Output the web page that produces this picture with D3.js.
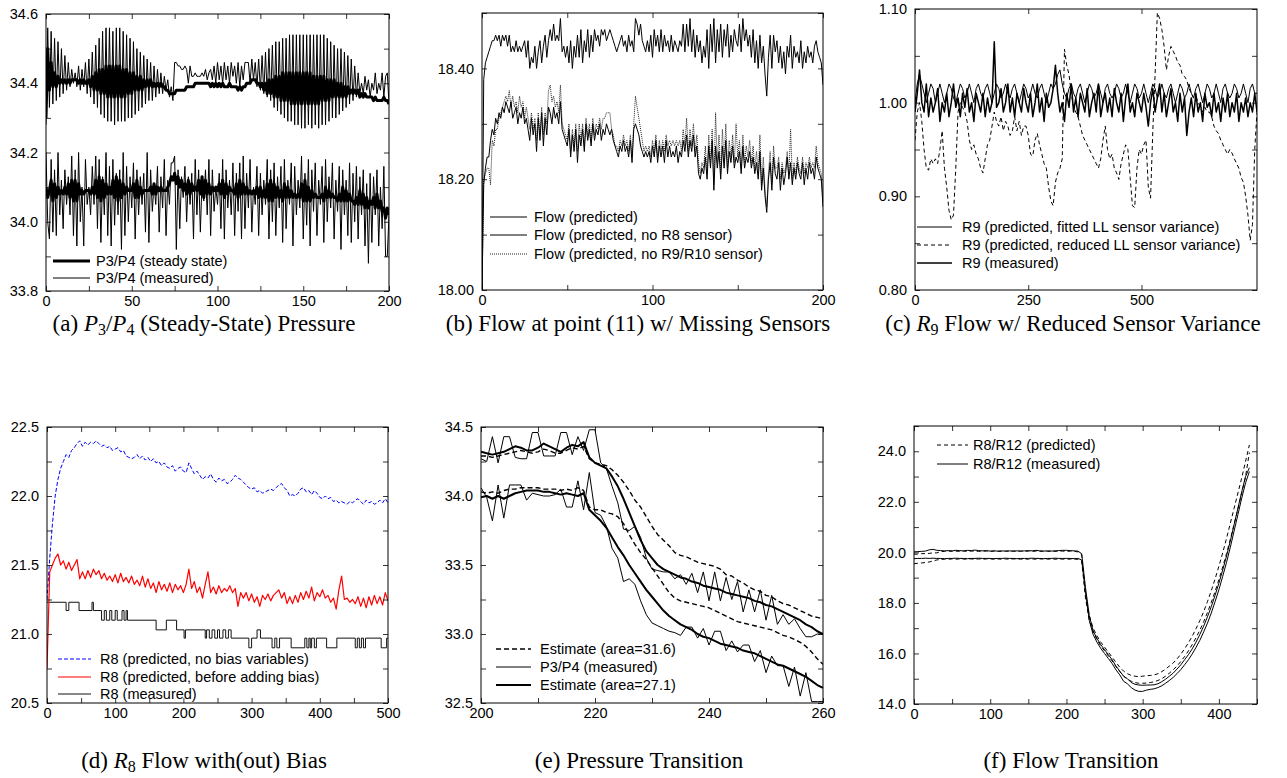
<!DOCTYPE html>
<html>
<head>
<meta charset="utf-8">
<script src="https://cdn.jsdelivr.net/npm/d3@7"></script>
<style>
body { margin: 0; background: #fff; }
text { font-family: "Liberation Sans", Arial, Helvetica, sans-serif; font-size: 14.5px; fill: #000; }
.tick text { font-size: 14.5px; }
.cap { font-family: "Liberation Serif", "Times New Roman", serif; font-size: 23px; }
</style>
</head>
<body>
<svg id="fig" width="1287" height="778"></svg>
<script>
// ---------- (a) P3/P4 steady-state pressure, x = 0..200 step 1 ----------
const aTopMeas = [34.28,34.56,34.33,34.55,34.34,34.53,34.35,34.52,34.36,34.50,
34.37,34.48,34.38,34.46,34.39,34.44,34.40,34.43,34.39,34.45,
34.38,34.44,34.39,34.46,34.37,34.47,34.36,34.49,34.34,34.51,
34.33,34.53,34.31,34.55,34.30,34.56,34.29,34.56,34.29,34.55,
34.28,34.56,34.29,34.56,34.29,34.55,34.29,34.54,34.30,34.53,
34.30,34.52,34.31,34.50,34.32,34.49,34.33,34.48,34.34,34.47,
34.35,34.46,34.35,34.45,34.36,34.44,34.37,34.43,34.37,34.42,
34.38,34.41,34.36,34.39,34.35,34.46,34.46,34.45,34.45,34.44,
34.44,34.45,34.44,34.40,34.45,34.42,34.42,34.43,34.42,34.42,
34.42,34.43,34.42,34.44,34.41,34.43,34.44,34.41,34.45,34.40,
34.46,34.41,34.45,34.40,34.46,34.41,34.45,34.40,34.46,34.42,
34.45,34.40,34.46,34.39,34.45,34.41,34.46,34.46,34.46,34.40,
34.47,34.41,34.46,34.39,34.47,34.38,34.48,34.37,34.49,34.36,
34.50,34.35,34.51,34.33,34.52,34.32,34.52,34.31,34.53,34.30,
34.53,34.29,34.54,34.29,34.54,34.28,34.54,34.28,34.54,34.27,
34.54,34.27,34.54,34.28,34.54,34.27,34.54,34.28,34.54,34.27,
34.54,34.28,34.54,34.28,34.53,34.29,34.52,34.30,34.51,34.30,
34.50,34.31,34.50,34.32,34.49,34.33,34.48,34.34,34.47,34.35,
34.45,34.36,34.43,34.37,34.40,34.37,34.42,34.38,34.41,34.36,
34.40,34.38,34.43,34.37,34.40,34.38,34.43,34.36,34.42,34.43,
34.34];
const aTopSteady = [34.30,34.50,34.38,34.46,34.39,34.43,34.39,34.42,34.40,34.41,
34.40,34.41,34.40,34.41,34.40,34.41,34.41,34.41,34.41,34.40,
34.41,34.40,34.41,34.40,34.40,34.41,34.39,34.42,34.38,34.43,
34.38,34.44,34.37,34.44,34.37,34.45,34.36,34.45,34.36,34.45,
34.36,34.45,34.36,34.45,34.36,34.44,34.36,34.44,34.37,34.43,
34.37,34.43,34.38,34.42,34.38,34.42,34.38,34.41,34.39,34.41,
34.39,34.41,34.39,34.40,34.39,34.40,34.39,34.40,34.39,34.39,
34.38,34.38,34.37,34.37,34.37,34.37,34.38,34.38,34.38,34.38,
34.38,34.38,34.39,34.39,34.39,34.39,34.39,34.40,34.40,34.40,
34.40,34.40,34.40,34.40,34.40,34.40,34.39,34.40,34.39,34.40,
34.39,34.40,34.39,34.40,34.39,34.39,34.39,34.40,34.39,34.39,
34.39,34.39,34.38,34.39,34.38,34.39,34.39,34.40,34.40,34.40,
34.41,34.41,34.41,34.40,34.40,34.39,34.40,34.38,34.40,34.37,
34.41,34.37,34.41,34.36,34.42,34.36,34.42,34.35,34.43,34.35,
34.43,34.35,34.43,34.34,34.43,34.34,34.43,34.34,34.43,34.34,
34.43,34.34,34.43,34.34,34.43,34.34,34.42,34.34,34.42,34.34,
34.42,34.35,34.42,34.35,34.41,34.35,34.41,34.36,34.41,34.36,
34.40,34.36,34.40,34.36,34.39,34.36,34.39,34.37,34.38,34.37,
34.38,34.37,34.38,34.36,34.37,34.36,34.37,34.36,34.36,34.36,
34.36,34.35,34.36,34.35,34.35,34.35,34.35,34.36,34.35,34.35,
34.34];
const aBotMeas = [34.20,34.00,33.95,34.18,33.97,34.15,33.96,34.20,34.02,34.12,
33.98,34.15,34.05,34.13,34.02,34.19,33.96,34.15,33.93,34.20,
34.00,34.10,33.93,34.18,34.05,34.10,34.02,34.16,34.05,34.19,
33.98,34.18,33.94,34.13,34.02,34.20,33.96,34.16,33.93,34.18,
33.99,34.14,34.02,34.15,33.92,34.20,33.96,34.16,34.00,34.13,
34.04,34.17,33.95,34.15,34.02,34.13,34.05,34.14,33.97,34.20,
33.94,34.15,34.03,34.11,34.05,34.16,33.97,34.13,34.04,34.18,
33.96,34.12,34.05,34.17,34.17,34.19,33.92,34.15,33.98,34.13,
34.07,34.16,34.00,34.13,34.05,34.14,33.95,34.18,34.02,34.15,
33.97,34.12,34.06,34.15,34.02,34.18,33.96,34.15,34.03,34.10,
34.05,34.14,33.98,34.18,33.95,34.15,34.04,34.12,34.02,34.17,
33.96,34.14,34.03,34.17,33.95,34.19,33.98,34.14,34.04,34.18,
33.97,34.10,34.05,34.16,33.96,34.14,34.02,34.12,34.05,34.18,
33.95,34.15,34.00,34.17,33.96,34.13,34.04,34.16,33.94,34.18,
33.98,34.12,34.05,34.17,33.93,34.16,34.02,34.12,34.04,34.19,
33.95,34.14,33.99,34.18,33.93,34.15,34.03,34.17,33.96,34.12,
34.05,34.16,33.94,34.18,34.00,34.13,34.04,34.17,33.95,34.12,
34.03,34.16,33.92,34.15,34.02,34.12,33.96,34.17,33.94,34.14,
34.00,34.16,33.95,34.13,34.02,34.15,33.93,34.11,33.88,34.14,
33.94,34.13,34.02,34.15,33.93,34.10,33.98,34.16,33.90,33.90,
34.02];
const aBotSteady = [34.10,34.07,34.09,34.12,34.06,34.11,34.07,34.10,34.08,34.09,
34.08,34.10,34.08,34.11,34.07,34.12,34.06,34.12,34.06,34.11,
34.08,34.09,34.08,34.09,34.09,34.09,34.08,34.10,34.08,34.12,
34.07,34.13,34.06,34.12,34.07,34.11,34.08,34.10,34.08,34.12,
34.07,34.13,34.06,34.12,34.07,34.11,34.08,34.10,34.09,34.09,
34.09,34.11,34.07,34.12,34.07,34.10,34.08,34.09,34.09,34.09,
34.09,34.10,34.08,34.11,34.08,34.10,34.09,34.10,34.09,34.09,
34.09,34.10,34.11,34.13,34.12,34.14,34.11,34.13,34.10,34.12,
34.09,34.11,34.08,34.12,34.08,34.11,34.09,34.10,34.09,34.12,
34.08,34.13,34.07,34.12,34.08,34.11,34.08,34.10,34.09,34.10,
34.09,34.11,34.08,34.12,34.07,34.11,34.08,34.10,34.09,34.09,
34.08,34.11,34.07,34.12,34.08,34.11,34.08,34.10,34.08,34.09,
34.08,34.09,34.08,34.10,34.07,34.10,34.07,34.09,34.07,34.11,
34.06,34.12,34.06,34.11,34.07,34.10,34.07,34.09,34.06,34.11,
34.07,34.10,34.07,34.09,34.07,34.08,34.07,34.08,34.07,34.11,
34.06,34.12,34.06,34.10,34.06,34.09,34.07,34.08,34.07,34.07,
34.07,34.08,34.06,34.10,34.07,34.09,34.07,34.08,34.07,34.07,
34.06,34.08,34.06,34.10,34.06,34.09,34.06,34.08,34.06,34.06,
34.05,34.07,34.05,34.09,34.05,34.08,34.04,34.07,34.04,34.06,
34.05,34.07,34.04,34.08,34.04,34.06,34.03,34.04,34.01,34.04,
34.02];

// ---------- (b) flow at point (11), x = 0..200 step 1 ----------
const bFlow = [18.00,18.38,18.41,18.42,18.43,18.44,18.45,18.45,18.46,18.45,
18.46,18.44,18.46,18.45,18.46,18.44,18.46,18.43,18.44,18.43,
18.45,18.43,18.44,18.43,18.44,18.45,18.42,18.45,18.40,18.42,
18.41,18.44,18.40,18.43,18.45,18.41,18.44,18.46,18.42,18.45,
18.47,18.45,18.48,18.45,18.46,18.45,18.49,18.43,18.44,18.42,
18.44,18.41,18.45,18.40,18.44,18.42,18.46,18.42,18.47,18.41,
18.45,18.43,18.47,18.42,18.46,18.43,18.47,18.45,18.46,18.44,
18.47,18.46,18.47,18.45,18.46,18.47,18.46,18.45,18.44,18.43,
18.44,18.45,18.46,18.44,18.45,18.43,18.46,18.44,18.45,18.43,
18.49,18.48,18.46,18.48,18.45,18.44,18.43,18.45,18.43,18.46,
18.42,18.47,18.44,18.46,18.43,18.47,18.43,18.46,18.44,18.45,
18.43,18.46,18.43,18.45,18.44,18.43,18.45,18.44,18.48,18.43,
18.48,18.44,18.49,18.43,18.47,18.42,18.46,18.43,18.45,18.41,
18.44,18.42,18.47,18.40,18.48,18.43,18.49,18.41,18.47,18.43,
18.48,18.42,18.47,18.44,18.48,18.42,18.46,18.43,18.47,18.45,
18.44,18.48,18.43,18.49,18.45,18.47,18.44,18.46,18.42,18.47,
18.41,18.45,18.40,18.46,18.41,18.44,18.39,18.35,18.42,18.46,
18.40,18.46,18.43,18.45,18.41,18.44,18.40,18.43,18.39,18.44,
18.42,18.46,18.40,18.44,18.42,18.43,18.41,18.45,18.40,18.43,
18.41,18.44,18.42,18.43,18.41,18.44,18.45,18.43,18.42,18.41,
18.37];
const bNoR8 = [18.00,18.19,18.22,18.24,18.24,18.27,18.29,18.28,18.31,18.30,
18.32,18.31,18.33,18.32,18.34,18.33,18.32,18.34,18.31,18.32,
18.33,18.30,18.32,18.31,18.33,18.30,18.31,18.29,18.27,18.31,
18.28,18.30,18.25,18.31,18.27,18.32,18.26,18.31,18.28,18.33,
18.32,18.30,18.33,18.31,18.32,18.30,18.34,18.29,18.28,18.27,
18.26,18.29,18.24,18.28,18.25,18.29,18.23,18.28,18.26,18.29,
18.25,18.30,18.27,18.29,18.26,18.30,18.27,18.29,18.28,18.30,
18.27,18.29,18.28,18.30,18.29,18.28,18.29,18.27,18.26,18.25,
18.24,18.26,18.25,18.27,18.25,18.26,18.24,18.27,18.23,18.29,
18.30,18.29,18.28,18.26,18.25,18.24,18.25,18.24,18.25,18.23,
18.26,18.24,18.27,18.23,18.26,18.24,18.26,18.23,18.27,18.24,
18.26,18.24,18.25,18.24,18.26,18.23,18.25,18.24,18.27,18.25,
18.28,18.24,18.27,18.25,18.28,18.24,18.26,18.21,18.20,18.22,
18.21,18.24,18.20,18.26,18.22,18.27,18.18,18.26,18.22,18.25,
18.20,18.26,18.22,18.27,18.21,18.25,18.23,18.26,18.22,18.24,
18.23,18.25,18.21,18.26,18.22,18.24,18.23,18.25,18.22,18.24,
18.21,18.23,18.20,18.25,18.18,18.22,18.17,18.14,18.20,18.23,
18.18,18.24,18.21,18.20,18.23,18.18,18.22,18.19,18.21,18.24,
18.20,18.23,18.19,18.22,18.20,18.23,18.21,18.20,18.23,18.19,
18.22,18.20,18.23,18.21,18.22,18.20,18.24,18.22,18.21,18.20,
18.15];
const bNoR9R10 = [18.00,18.20,18.21,18.22,18.22,18.19,18.27,18.26,18.29,18.29,
18.31,18.32,18.33,18.34,18.35,18.34,18.36,18.33,18.35,18.33,
18.34,18.32,18.35,18.33,18.34,18.31,18.33,18.31,18.29,18.32,
18.29,18.31,18.27,18.32,18.28,18.33,18.28,18.32,18.30,18.36,
18.37,18.34,18.35,18.33,18.34,18.32,18.37,18.30,18.29,18.28,
18.27,18.30,18.25,18.29,18.26,18.30,18.25,18.30,18.27,18.30,
18.26,18.31,18.28,18.30,18.27,18.31,18.28,18.30,18.29,18.31,
18.29,18.31,18.31,18.32,18.32,18.32,18.29,18.28,18.26,18.26,
18.25,18.27,18.26,18.28,18.26,18.27,18.25,18.28,18.24,18.30,
18.35,18.33,18.31,18.29,18.27,18.25,18.26,18.25,18.26,18.24,
18.27,18.25,18.28,18.24,18.27,18.25,18.27,18.25,18.28,18.26,
18.27,18.26,18.27,18.26,18.27,18.26,18.27,18.25,18.29,18.26,
18.31,18.25,18.29,18.26,18.30,18.25,18.28,18.23,18.21,18.23,
18.22,18.26,18.21,18.28,18.23,18.29,18.19,18.32,18.23,18.28,
18.21,18.29,18.23,18.30,18.22,18.27,18.24,18.28,18.23,18.30,
18.24,18.27,18.22,18.28,18.23,18.26,18.24,18.27,18.23,18.26,
18.22,18.25,18.21,18.28,18.19,18.24,18.18,18.15,18.21,18.25,
18.19,18.26,18.22,18.22,18.24,18.20,18.23,18.21,18.22,18.25,
18.21,18.29,18.20,18.23,18.21,18.24,18.22,18.21,18.24,18.21,
18.23,18.22,18.24,18.22,18.23,18.22,18.26,18.23,18.22,18.21,
18.16];

// ---------- (c) R9 flow, x = 0..755 step 5 ----------
const cFitted = [1.00,1.02,1.03,1.02,1.01,1.00,1.01,1.02,1.015,1.00,
1.01,1.02,1.01,1.00,1.01,1.02,1.015,1.005,1.00,1.01,
1.02,1.015,1.005,1.01,1.02,1.01,1.00,1.015,1.02,1.01,
1.005,1.015,1.02,1.01,1.00,1.01,1.02,1.015,1.005,1.01,
1.02,1.01,1.005,1.015,1.02,1.01,1.00,1.01,1.02,1.015,
1.005,1.01,1.02,1.01,1.005,1.015,1.02,1.01,1.00,1.01,
1.02,1.015,1.02,1.03,1.035,1.02,1.01,1.005,1.015,1.02,
1.01,1.005,1.015,1.02,1.01,1.00,1.01,1.02,1.015,1.005,
1.01,1.02,1.01,1.00,1.015,1.02,1.01,1.005,1.01,1.02,
1.015,1.005,1.01,1.02,1.01,1.00,1.01,1.02,1.015,1.005,
1.01,1.02,1.01,1.00,1.01,1.02,1.015,1.005,1.01,1.02,
1.01,1.005,1.015,1.02,1.01,1.00,1.01,1.02,1.015,1.005,
1.01,1.02,1.01,1.005,1.015,1.02,1.01,1.00,1.01,1.02,
1.015,1.005,1.01,1.02,1.01,1.00,1.015,1.02,1.01,1.005,
1.01,1.02,1.015,1.005,1.01,1.02,1.01,1.00,1.015,1.02,
1.01,1.01];
const cReduced = [0.96,0.99,1.00,0.98,0.95,0.93,0.928,0.94,0.935,0.94,
0.935,0.95,0.97,0.93,0.91,0.885,0.875,0.88,0.93,0.99,
1.00,0.995,0.99,0.98,0.96,0.95,0.955,0.945,0.94,0.93,
0.925,0.94,0.955,0.96,0.975,0.99,0.98,0.975,0.985,0.97,
0.98,0.975,0.965,0.97,0.985,0.97,0.98,0.965,0.975,0.975,
0.965,0.945,0.943,0.96,0.967,0.955,0.945,0.935,0.93,0.91,
0.895,0.89,0.915,0.925,0.93,0.94,1.057,1.04,1.03,1.01,
0.995,0.99,0.985,0.975,0.965,0.96,0.955,0.95,0.945,0.94,
0.935,0.93,0.94,0.96,0.975,0.95,0.94,0.945,0.93,0.925,
0.918,0.935,0.945,0.955,0.95,0.92,0.89,0.888,0.93,0.95,
0.945,0.955,0.96,0.91,0.898,0.97,1.03,1.096,1.09,1.078,
1.06,1.035,1.05,1.06,1.055,1.05,1.043,1.04,1.03,1.028,
1.024,1.015,1.01,1.005,1.007,1.00,0.995,0.99,0.995,0.99,
0.99,0.985,0.975,0.97,0.967,0.96,0.955,0.95,0.945,0.95,
0.946,0.94,0.935,0.93,0.92,0.915,0.90,0.88,0.853,0.87,
0.95,0.99];
const cMeasured = [0.99,1.01,1.035,1.00,0.99,1.02,0.985,1.005,0.99,1.00,
1.015,0.98,1.00,0.99,1.01,0.985,1.00,1.02,0.995,1.005,
0.985,1.01,0.995,1.015,0.99,1.00,0.98,1.01,1.00,0.99,
1.01,0.985,1.005,0.99,1.00,1.065,0.995,1.00,1.015,0.99,
1.00,1.02,0.99,1.005,0.985,1.01,1.00,0.99,1.015,1.00,
0.99,1.01,0.985,1.00,1.02,0.99,1.005,0.98,1.01,0.995,
1.00,1.015,1.04,1.01,0.99,1.00,0.98,1.01,0.995,1.02,
0.99,1.005,0.985,1.01,1.00,0.99,1.015,0.985,1.00,1.01,
0.99,1.02,0.985,1.00,1.01,0.99,1.005,0.985,1.015,1.00,
0.99,1.01,0.98,1.005,1.02,0.99,1.00,0.985,1.01,1.00,
0.99,1.01,0.995,0.975,1.00,1.015,0.99,1.005,1.02,0.99,
1.01,0.985,1.00,1.015,0.99,1.00,0.98,1.01,0.99,1.005,
0.965,0.99,1.005,0.985,1.01,0.99,1.00,0.98,1.01,0.995,
1.00,0.985,1.01,0.99,1.00,0.98,1.005,0.99,1.01,0.985,
1.00,0.99,1.01,0.98,1.00,0.99,1.005,0.985,1.00,0.99,
1.01,0.99];

// ---------- (d) R8 flow with(out) bias, x = 0..500 step 4 ----------
const dNoBias = [21.25,21.55,21.80,22.00,22.12,22.20,22.25,22.30,22.28,22.33,
22.35,22.38,22.40,22.36,22.39,22.37,22.39,22.38,22.40,22.38,
22.36,22.37,22.35,22.36,22.33,22.34,22.35,22.32,22.33,22.29,
22.28,22.27,22.28,22.30,22.27,22.29,22.26,22.28,22.25,22.27,
22.24,22.25,22.22,22.24,22.21,22.20,22.22,22.18,22.20,22.21,
22.18,22.17,22.24,22.20,22.16,22.18,22.15,22.12,22.14,22.13,
22.16,22.12,22.10,22.13,22.11,22.12,22.09,22.10,22.12,22.15,
22.13,22.12,22.10,22.08,22.06,22.05,22.06,22.03,22.04,22.02,
22.03,22.04,22.05,22.04,22.06,22.08,22.09,22.06,22.04,22.00,
22.01,22.00,22.02,22.05,22.06,22.03,22.04,22.01,22.04,22.02,
21.99,21.98,22.00,21.98,21.99,21.96,21.97,21.95,21.96,21.95,
21.94,21.96,21.95,21.97,21.98,21.96,21.94,21.97,21.95,21.96,
21.94,21.95,21.97,21.95,21.98,21.95];
const dBeforeBias = [20.75,21.45,21.50,21.55,21.58,21.50,21.53,21.47,21.52,21.46,
21.50,21.54,21.40,21.45,21.40,21.46,21.41,21.47,21.43,21.46,
21.40,21.44,21.39,21.42,21.38,21.43,21.37,21.44,21.38,21.41,
21.37,21.42,21.36,21.39,21.35,21.42,21.34,21.40,21.33,21.37,
21.30,21.38,21.32,21.36,21.31,21.37,21.30,21.36,21.32,21.35,
21.30,21.36,21.47,21.33,21.38,21.30,21.34,21.26,21.36,21.45,
21.30,21.34,21.29,21.35,21.30,21.33,21.31,21.35,21.30,21.33,
21.20,21.30,21.26,21.30,21.24,21.29,21.23,21.27,21.20,21.28,
21.25,21.29,21.24,21.28,21.30,21.32,21.26,21.30,21.22,21.27,
21.22,21.28,21.23,21.30,21.25,21.31,21.26,21.34,21.24,21.30,
21.27,21.32,21.26,21.28,21.23,21.26,21.18,21.32,21.42,21.25,
21.26,21.23,21.25,21.22,21.27,21.20,21.26,21.19,21.27,21.21,
21.28,21.22,21.27,21.21,21.30,21.24];
// measured R8 is quantised: each value holds from its x until the next x
const dMeasX = [0,28,32,47,66,68,80,84,87,92,95,100,103,110,113,116,118,160,175,190,
201,203,232,234,238,242,246,250,253,258,262,266,270,296,300,308,313,330,334,337,
341,358,378,381,384,386,388,392,395,410,425,452,455,458,461,464,467,490,498,500];
const dMeasY = [21.23,21.17,21.23,21.17,21.23,21.17,21.10,21.17,21.10,21.17,21.10,21.17,21.10,21.17,21.10,21.17,21.10,21.03,21.10,21.03,
20.97,21.03,20.97,21.03,20.97,21.03,20.97,21.03,20.97,21.03,20.97,21.03,20.97,20.90,20.97,21.03,20.97,20.90,20.97,20.90,
20.97,20.90,20.97,20.90,20.97,20.90,20.97,20.90,20.97,20.90,20.97,20.90,20.97,20.90,20.97,20.90,20.97,20.90,20.97,20.97];

// ---------- (e) pressure transition, x = 200..260 step 1 ----------
const eUpMeas = [34.27,34.25,34.43,34.24,34.43,34.43,34.28,34.27,34.27,34.46,
34.46,34.29,34.29,34.29,34.46,34.46,34.30,34.43,34.33,34.48,
34.48,34.24,34.20,34.07,33.95,33.76,33.75,33.78,33.70,33.55,
33.47,33.46,33.45,33.45,33.40,33.43,33.36,33.44,33.30,33.45,
33.24,33.45,33.24,33.41,33.25,33.38,33.16,33.32,33.16,33.32,
33.10,33.28,33.07,33.14,33.07,33.11,33.04,32.98,32.98,33.00,
33.00];
const eUpEst316 = [34.29,34.29,34.28,34.29,34.30,34.31,34.32,34.33,34.32,34.31,
34.32,34.34,34.33,34.31,34.31,34.33,34.35,34.34,34.36,34.27,
34.24,34.23,34.22,34.19,34.15,34.10,34.04,33.97,33.92,33.85,
33.78,33.72,33.68,33.64,33.59,33.57,33.56,33.54,33.52,33.51,
33.50,33.49,33.47,33.43,33.42,33.39,33.37,33.34,33.32,33.31,
33.28,33.27,33.24,33.22,33.21,33.19,33.17,33.15,33.13,33.12,
33.11];
const eUpEst271 = [34.32,34.31,34.30,34.31,34.32,34.34,34.36,34.35,34.33,34.33,
34.35,34.38,34.36,34.34,34.32,34.35,34.37,34.36,34.39,34.28,
34.24,34.22,34.20,34.14,34.07,33.98,33.88,33.78,33.68,33.60,
33.55,33.50,33.47,33.45,33.43,33.41,33.40,33.38,33.37,33.35,
33.34,33.33,33.32,33.30,33.29,33.28,33.27,33.26,33.24,33.23,
33.21,33.20,33.18,33.16,33.14,33.12,33.10,33.07,33.05,33.02,
33.00];
const eLoMeas = [34.06,33.99,33.82,34.08,33.84,34.08,34.08,34.08,33.97,34.02,
34.01,34.00,34.00,34.01,34.05,33.92,33.92,34.11,33.90,34.17,
33.88,33.86,33.78,33.62,33.55,33.38,33.40,33.36,33.24,33.14,
33.08,33.06,33.04,33.02,33.01,32.99,33.05,33.05,32.97,33.04,
32.92,33.02,33.02,32.88,32.95,32.87,32.92,32.92,32.80,32.88,
32.72,32.84,32.77,32.77,32.62,32.76,32.55,32.72,32.51,32.51,
32.51];
const eLoEst316 = [34.03,34.02,34.03,34.02,34.04,34.05,34.05,34.06,34.06,34.06,
34.06,34.05,34.05,34.05,34.04,34.05,34.04,34.06,34.04,33.92,
33.90,33.90,33.88,33.87,33.85,33.80,33.72,33.65,33.59,33.54,
33.48,33.42,33.36,33.30,33.26,33.24,33.23,33.22,33.21,33.20,
33.19,33.17,33.15,33.13,33.11,33.09,33.08,33.07,33.06,33.05,
33.04,33.03,33.01,32.99,32.98,32.96,32.94,32.91,32.87,32.82,
32.78];
const eLoEst271 = [33.99,34.00,33.98,34.00,33.98,34.00,34.02,34.03,34.04,34.04,
34.04,34.03,34.03,34.02,34.01,34.02,34.01,34.00,34.02,33.90,
33.86,33.82,33.77,33.70,33.63,33.57,33.50,33.44,33.38,33.32,
33.27,33.22,33.17,33.13,33.10,33.07,33.05,33.03,33.00,32.98,
32.97,32.95,32.93,32.92,32.91,32.90,32.88,32.87,32.86,32.84,
32.82,32.80,32.78,32.77,32.75,32.73,32.71,32.69,32.66,32.63,
32.61];

// ---------- (f) flow transition, x = 0..440 step 5 ----------
const fUpMeas = [20.02,20.03,20.04,20.05,20.10,20.12,20.08,20.07,20.06,20.07,
20.06,20.08,20.07,20.06,20.08,20.07,20.09,20.07,20.06,20.07,
20.05,20.06,20.05,20.06,20.05,20.06,20.05,20.06,20.05,20.06,
20.07,20.06,20.08,20.06,20.05,20.06,20.05,20.06,20.07,20.08,
20.08,20.07,20.06,20.05,19.95,18.60,17.50,16.90,16.60,16.35,
16.15,15.95,15.75,15.50,15.30,15.10,15.00,14.85,14.78,14.75,
14.74,14.75,14.75,14.76,14.80,14.88,14.98,15.10,15.22,15.38,
15.55,15.75,15.95,16.18,16.45,16.75,17.08,17.45,17.85,18.30,
18.78,19.30,19.85,20.45,21.10,21.75,22.40,23.00,23.35];
const fLoMeas = [19.75,19.76,19.76,19.77,19.76,19.77,19.76,19.76,19.75,19.76,
19.76,19.77,19.76,19.76,19.75,19.76,19.76,19.77,19.76,19.76,
19.76,19.75,19.76,19.76,19.77,19.76,19.76,19.75,19.76,19.76,
19.76,19.77,19.76,19.76,19.75,19.76,19.76,19.77,19.76,19.76,
19.76,19.76,19.75,19.76,19.70,18.40,17.30,16.75,16.45,16.20,
16.00,15.80,15.60,15.35,15.15,14.90,14.80,14.65,14.55,14.50,
14.50,14.55,14.58,14.60,14.65,14.72,14.82,14.93,15.05,15.20,
15.36,15.55,15.75,15.98,16.24,16.52,16.85,17.20,17.60,18.05,
18.52,19.05,19.60,20.20,20.85,21.50,22.15,22.75,23.20];
const fUpPred = [19.93,19.93,19.95,19.95,19.96,19.98,19.98,20.03,20.04,20.05,
20.04,20.05,20.04,20.05,20.04,20.05,20.05,20.04,20.05,20.05,
20.04,20.05,20.04,20.04,20.05,20.04,20.05,20.04,20.05,20.04,
20.05,20.04,20.05,20.04,20.05,20.04,20.05,20.04,20.05,20.05,
20.04,20.05,20.04,20.02,19.90,18.30,17.50,17.00,16.70,16.45,
16.25,16.05,15.85,15.65,15.45,15.30,15.20,15.13,15.10,15.08,
15.10,15.12,15.13,15.15,15.20,15.28,15.38,15.50,15.62,15.78,
15.97,16.18,16.42,16.68,16.98,17.30,17.65,18.05,18.48,18.95,
19.45,19.98,20.55,21.15,21.75,22.35,22.95,23.60,24.25];
const fLoPred = [19.55,19.57,19.58,19.60,19.62,19.66,19.70,19.72,19.73,19.73,
19.74,19.73,19.74,19.73,19.74,19.74,19.73,19.74,19.73,19.74,
19.74,19.73,19.74,19.73,19.74,19.73,19.74,19.74,19.73,19.74,
19.73,19.74,19.73,19.74,19.74,19.73,19.74,19.73,19.74,19.73,
19.74,19.73,19.74,19.72,19.65,18.20,17.30,16.85,16.55,16.30,
16.10,15.90,15.70,15.48,15.28,15.10,14.98,14.90,14.85,14.82,
14.82,14.83,14.85,14.88,14.93,15.00,15.10,15.22,15.35,15.50,
15.68,15.88,16.10,16.35,16.62,16.92,17.25,17.62,18.02,18.45,
18.92,19.42,19.95,20.52,21.12,21.72,22.35,23.00,23.95];

const svg = d3.select("#fig");

// sampled series: value i sits at x0 + i*dx
function sampled(ys, x0, dx) {
    return ys.map((v, i) => [x0 + i * dx, v]);
}

const range = (a, b, s) => d3.range(a, b + s / 2, s);

function drawPanel(p) {
    const [left, right, top, bottom] = p.box;
    const x = d3.scaleLinear().domain(p.xDomain).range([left, right]);
    const y = d3.scaleLinear().domain(p.yDomain).range([bottom, top]);
    const g = svg.append("g");

    svg.append("clipPath").attr("id", "clip-" + p.id)
        .append("rect")
        .attr("x", left).attr("y", top)
        .attr("width", right - left).attr("height", bottom - top);

    const plot = g.append("g").attr("clip-path", `url(#clip-${p.id})`);
    p.series.forEach(s => {
        const line = d3.line().x(d => x(d[0])).y(d => y(d[1]));
        if (s.stepped) line.curve(d3.curveStepAfter);
        plot.append("path")
            .datum(s.points)
            .attr("fill", "none")
            .attr("stroke", s.color || "#000")
            .attr("stroke-width", s.width || 1)
            .attr("stroke-dasharray", s.dash || null)
            .attr("stroke-linejoin", "round")
            .attr("d", line);
    });

    const has = list => d => list.some(v => Math.abs(v - d) < 1e-9);
    const yLab = has(p.yLabels), xLab = has(p.xLabels);
    const yFmt = d3.format(p.yFormat), xFmt = d3.format("d");

    // ticks point inwards on all four sides, like gnuplot
    g.append("g").attr("transform", `translate(${left},0)`)
        .call(d3.axisLeft(y).tickValues(p.yTicks).tickSize(-5).tickPadding(8)
            .tickFormat(d => yLab(d) ? yFmt(d) : ""));
    g.append("g").attr("transform", `translate(${right},0)`)
        .call(d3.axisRight(y).tickValues(p.yTicks).tickSize(-5).tickFormat(""));
    g.append("g").attr("transform", `translate(0,${bottom})`)
        .call(d3.axisBottom(x).tickValues(p.xTicks).tickSize(-5).tickPadding(5)
            .tickFormat(d => xLab(d) ? xFmt(d) : ""));
    g.append("g").attr("transform", `translate(0,${top})`)
        .call(d3.axisTop(x).tickValues(p.xTicks).tickSize(-5).tickFormat(""));
    g.selectAll(".domain").remove();
    g.selectAll(".tick line").attr("stroke-width", 0.8);

    g.append("rect")
        .attr("x", left).attr("y", top)
        .attr("width", right - left).attr("height", bottom - top)
        .attr("fill", "none").attr("stroke", "#000").attr("stroke-width", 1);

    // legend, entries in the order given by p.legend.items (series indices)
    const L = p.legend;
    L.items.forEach((si, i) => {
        const s = p.series[si];
        const ly = L.y[i];
        g.append("line")
            .attr("x1", L.x1).attr("x2", L.x2).attr("y1", ly).attr("y2", ly)
            .attr("stroke", s.color || "#000")
            .attr("stroke-width", s.width || 1)
            .attr("stroke-dasharray", s.dash || null);
        g.append("text").attr("x", L.tx).attr("y", ly).attr("dy", "0.36em").text(s.label);
    });

    // caption under the panel
    const cap = svg.append("text").attr("class", "cap")
        .attr("x", p.caption.x).attr("y", p.caption.y).attr("text-anchor", "middle");
    let shifted = false;
    p.caption.parts.forEach(([str, kind]) => {
        const ts = cap.append("tspan").text(str);
        if (kind === "i") ts.attr("font-style", "italic");
        if (kind === "sub") {
            ts.attr("font-size", "16px").attr("dy", shifted ? 0 : 4);
            shifted = true;
        } else if (shifted) {
            ts.attr("dy", -4);
            shifted = false;
        }
    });
}

drawPanel({
    id: "a", box: [46, 389, 14, 291],
    xDomain: [0, 200], yDomain: [33.8, 34.6],
    xTicks: range(0, 200, 25), xLabels: range(0, 200, 50),
    yTicks: range(33.8, 34.6, 0.1), yLabels: range(33.8, 34.6, 0.2), yFormat: ".1f",
    series: [
        { points: sampled(aTopMeas, 0, 1), width: 1, label: "P3/P4 (measured)" },
        { points: sampled(aBotMeas, 0, 1), width: 1 },
        { points: sampled(aTopSteady, 0, 1), width: 3, label: "P3/P4 (steady state)" },
        { points: sampled(aBotSteady, 0, 1), width: 3 }
    ],
    legend: { items: [2, 0], x1: 53, x2: 90, tx: 96, y: [261, 278] },
    caption: { x: 204, y: 331, parts: [["(a) "], ["P", "i"], ["3", "sub"], ["/"], ["P", "i"], ["4", "sub"], [" (Steady-State) Pressure"]] }
});

drawPanel({
    id: "b", box: [482, 823, 13, 290],
    xDomain: [0, 200], yDomain: [18.0, 18.5],
    xTicks: range(0, 200, 50), xLabels: [0, 100, 200],
    yTicks: range(18.0, 18.5, 0.1), yLabels: [18.0, 18.2, 18.4], yFormat: ".2f",
    series: [
        { points: sampled(bNoR9R10, 0, 1), width: 1, dash: "1,1", color: "#222", label: "Flow (predicted, no R9/R10 sensor)" },
        { points: sampled(bNoR8, 0, 1), width: 1, label: "Flow (predicted, no R8 sensor)" },
        { points: sampled(bFlow, 0, 1), width: 1, label: "Flow (predicted)" }
    ],
    legend: { items: [2, 1, 0], x1: 490, x2: 527, tx: 534, y: [217, 235, 254] },
    caption: { x: 638, y: 331, parts: [["(b) Flow at point (11) w/ Missing Sensors"]] }
});

drawPanel({
    id: "c", box: [915, 1257, 9, 290],
    xDomain: [0, 755], yDomain: [0.8, 1.1],
    xTicks: [0, 250, 500], xLabels: [0, 250, 500],
    yTicks: range(0.8, 1.1, 0.05), yLabels: [0.8, 0.9, 1.0, 1.1], yFormat: ".2f",
    series: [
        { points: sampled(cReduced, 0, 5), width: 1, dash: "4,3", label: "R9 (predicted, reduced LL sensor variance)" },
        { points: sampled(cFitted, 0, 5), width: 1, label: "R9 (predicted, fitted LL sensor variance)" },
        { points: sampled(cMeasured, 0, 5), width: 1.5, label: "R9 (measured)" }
    ],
    legend: { items: [1, 0, 2], x1: 917, x2: 952, tx: 962, y: [227, 245, 263] },
    caption: { x: 1073, y: 331, parts: [["(c) "], ["R", "i"], ["9", "sub"], [" Flow w/ Reduced Sensor Variance"]] }
});

drawPanel({
    id: "d", box: [47, 388, 427, 703],
    xDomain: [0, 500], yDomain: [20.5, 22.5],
    xTicks: range(0, 500, 50), xLabels: range(0, 500, 100),
    yTicks: range(20.5, 22.5, 0.25), yLabels: range(20.5, 22.5, 0.5), yFormat: ".1f",
    series: [
        { points: dMeasX.map((v, i) => [v, dMeasY[i]]), stepped: true, width: 1, color: "#111", label: "R8 (measured)" },
        { points: sampled(dBeforeBias, 0, 4), width: 1.2, color: "#ff0000", label: "R8 (predicted, before adding bias)" },
        { points: sampled(dNoBias, 0, 4), width: 1, color: "#0000ff", dash: "4,2", label: "R8 (predicted, no bias variables)" }
    ],
    legend: { items: [2, 1, 0], x1: 58, x2: 91, tx: 100, y: [659, 677, 694] },
    caption: { x: 204, y: 768, parts: [["(d) "], ["R", "i"], ["8", "sub"], [" Flow with(out) Bias"]] }
});

drawPanel({
    id: "e", box: [481, 823, 427, 703],
    xDomain: [200, 260], yDomain: [32.5, 34.5],
    xTicks: range(200, 260, 10), xLabels: range(200, 260, 20),
    yTicks: range(32.5, 34.5, 0.25), yLabels: range(32.5, 34.5, 0.5), yFormat: ".1f",
    series: [
        { points: sampled(eUpMeas, 200, 1), width: 1, label: "P3/P4 (measured)" },
        { points: sampled(eLoMeas, 200, 1), width: 1 },
        { points: sampled(eUpEst316, 200, 1), width: 1.4, dash: "5,3", label: "Estimate (area=31.6)" },
        { points: sampled(eLoEst316, 200, 1), width: 1.4, dash: "5,3" },
        { points: sampled(eUpEst271, 200, 1), width: 2, label: "Estimate (area=27.1)" },
        { points: sampled(eLoEst271, 200, 1), width: 2 }
    ],
    legend: { items: [2, 0, 4], x1: 496, x2: 531, tx: 540, y: [649, 667, 685] },
    caption: { x: 639, y: 768, parts: [["(e) Pressure Transition"]] }
});

drawPanel({
    id: "f", box: [914, 1257, 426, 704],
    xDomain: [0, 450], yDomain: [14, 25],
    xTicks: range(0, 450, 50), xLabels: range(0, 400, 100),
    yTicks: range(14, 25, 1), yLabels: range(14, 24, 2), yFormat: ".1f",
    series: [
        { points: sampled(fUpPred, 0, 5), width: 1, dash: "4,3", label: "R8/R12 (predicted)" },
        { points: sampled(fLoPred, 0, 5), width: 1, dash: "4,3" },
        { points: sampled(fUpMeas, 0, 5), width: 1, label: "R8/R12 (measured)" },
        { points: sampled(fLoMeas, 0, 5), width: 1 }
    ],
    legend: { items: [0, 2], x1: 937, x2: 968, tx: 973, y: [445, 464] },
    caption: { x: 1071, y: 768, parts: [["(f) Flow Transition"]] }
});
</script>
</body>
</html>
